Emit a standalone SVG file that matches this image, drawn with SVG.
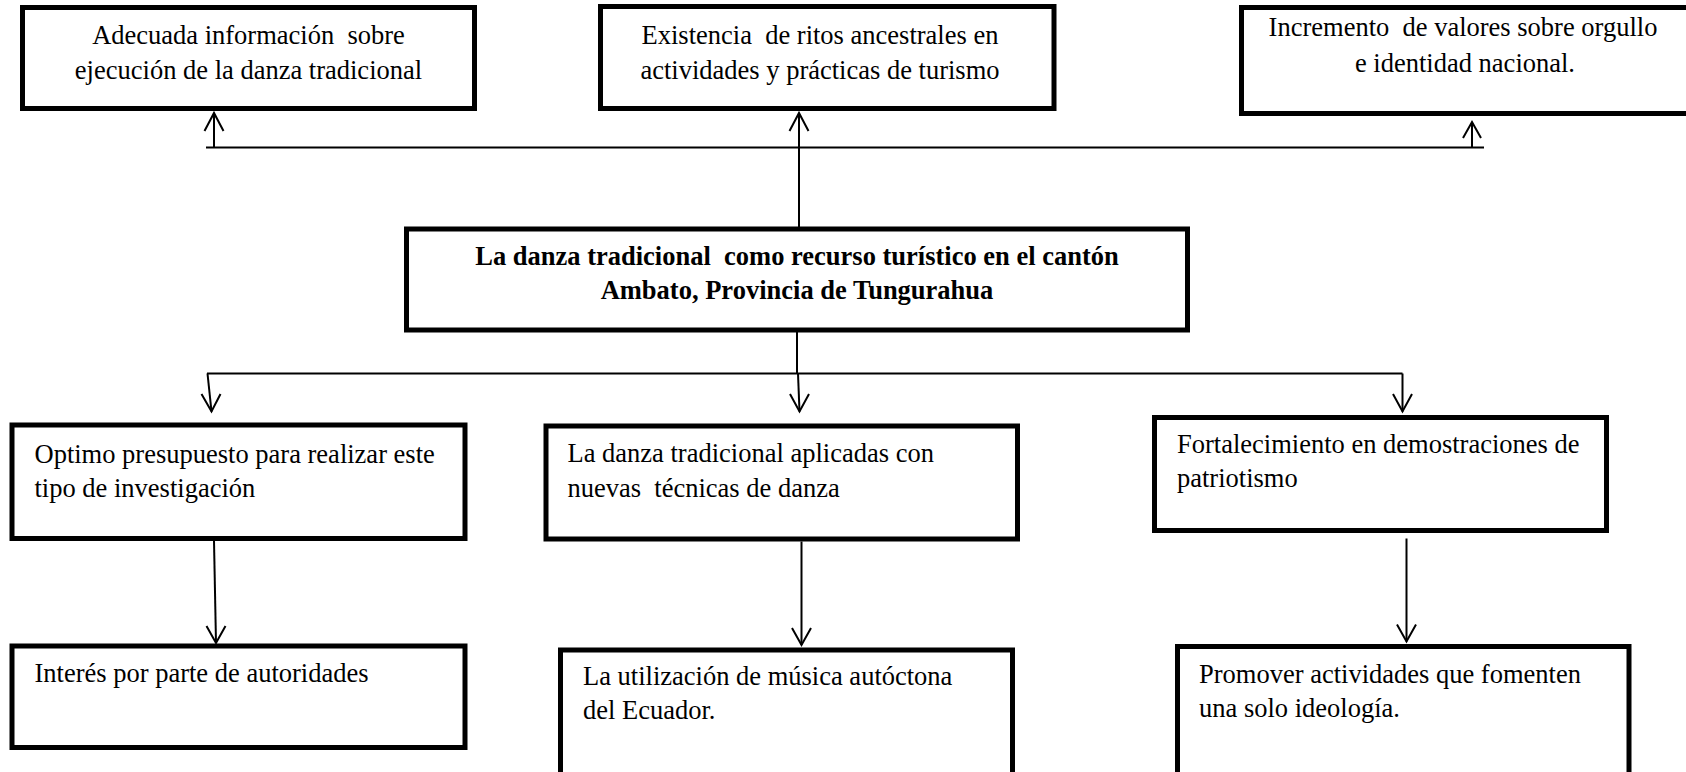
<svg xmlns="http://www.w3.org/2000/svg" width="1686" height="772" viewBox="0 0 1686 772">
<style>
.box{fill:#fff;stroke:#000;stroke-width:5}
.t{font-family:"Liberation Serif","Times New Roman",serif;font-size:26.5px;fill:#000;white-space:pre}
.c{text-anchor:middle}
.b{font-weight:bold}
.ln{fill:none;stroke:#000;stroke-width:2}
</style>
<rect width="1686" height="772" fill="#fff"/>
<g id="connectors">
<line class="ln" x1="206" y1="147.5" x2="1484" y2="147.5"/>
<line class="ln" x1="214" y1="147.5" x2="214" y2="113"/>
<polyline class="ln" points="204.5,131 214,113 223.5,131"/>
<line class="ln" x1="799" y1="229" x2="799" y2="113"/>
<polyline class="ln" points="789.5,131 799,113 808.5,131"/>
<line class="ln" x1="1472" y1="147.5" x2="1472" y2="122"/>
<polyline class="ln" points="1463,138 1472,122 1481,138"/>
<line class="ln" x1="797" y1="331" x2="797" y2="373.5"/>
<line class="ln" x1="207" y1="373.5" x2="1402.5" y2="373.5"/>
<line class="ln" x1="207.5" y1="373.5" x2="211.5" y2="411.5"/>
<polyline class="ln" points="201.5,394 211.5,411.5 220.5,394"/>
<line class="ln" x1="798" y1="373.5" x2="799.5" y2="411.5"/>
<polyline class="ln" points="790,394 799.5,411.5 809,394"/>
<line class="ln" x1="1402.5" y1="373.5" x2="1402.5" y2="411.5"/>
<polyline class="ln" points="1393,394 1402.5,411.5 1412,394"/>
<line class="ln" x1="214" y1="541" x2="216" y2="643"/>
<polyline class="ln" points="206.5,626 216,643 225.5,626"/>
<line class="ln" x1="801.5" y1="541.5" x2="801.5" y2="645"/>
<polyline class="ln" points="792,628 801.5,645 811,628"/>
<line class="ln" x1="1406.5" y1="538.5" x2="1406.5" y2="641.5"/>
<polyline class="ln" points="1397,624.5 1406.5,641.5 1416,624.5"/>
</g>
<g id="n1">
<rect class="box" x="22.5" y="7.5" width="452" height="101"/>
<text class="t c" x="248.5" y="44" xml:space="preserve">Adecuada información  sobre</text>
<text class="t c" x="248.5" y="79">ejecución de la danza tradicional</text>
</g>
<g id="n2">
<rect class="box" x="600.5" y="6.5" width="453.5" height="102"/>
<text class="t c" x="820" y="44" xml:space="preserve">Existencia  de ritos ancestrales en</text>
<text class="t c" x="820" y="79">actividades y prácticas de turismo</text>
</g>
<g id="n3">
<rect class="box" x="1241.5" y="7.5" width="500" height="106"/>
<text class="t c" x="1463" y="36" xml:space="preserve">Incremento  de valores sobre orgullo</text>
<text class="t c" x="1465" y="72">e identidad nacional.</text>
</g>
<g id="center">
<rect class="box" x="406.5" y="229" width="781" height="101"/>
<text class="t c b" x="797" y="265" xml:space="preserve">La danza tradicional  como recurso turístico en el cantón</text>
<text class="t c b" x="797" y="299">Ambato, Provincia de Tungurahua</text>
</g>
<g id="l1">
<rect class="box" x="12" y="425" width="453" height="113.5"/>
<text class="t" x="34.5" y="462.5">Optimo presupuesto para realizar este</text>
<text class="t" x="34.5" y="496.5">tipo de investigación</text>
</g>
<g id="l2">
<rect class="box" x="12" y="646" width="453" height="101.5"/>
<text class="t" x="34.5" y="682">Interés por parte de autoridades</text>
</g>
<g id="m1">
<rect class="box" x="546" y="426" width="471.5" height="113"/>
<text class="t" x="567.5" y="462">La danza tradicional aplicadas con</text>
<text class="t" x="567.5" y="497" xml:space="preserve">nuevas  técnicas de danza</text>
</g>
<g id="m2">
<rect class="box" x="560.5" y="650" width="452" height="200"/>
<text class="t" x="583" y="685">La utilización de música autóctona</text>
<text class="t" x="583" y="719">del Ecuador.</text>
</g>
<g id="r1">
<rect class="box" x="1154.5" y="417.5" width="452" height="113"/>
<text class="t" x="1177" y="453">Fortalecimiento en demostraciones de</text>
<text class="t" x="1177" y="487">patriotismo</text>
</g>
<g id="r2">
<rect class="box" x="1177.5" y="646.5" width="451.5" height="200"/>
<text class="t" x="1199" y="683">Promover actividades que fomenten</text>
<text class="t" x="1199" y="717">una solo ideología.</text>
</g>
</svg>
